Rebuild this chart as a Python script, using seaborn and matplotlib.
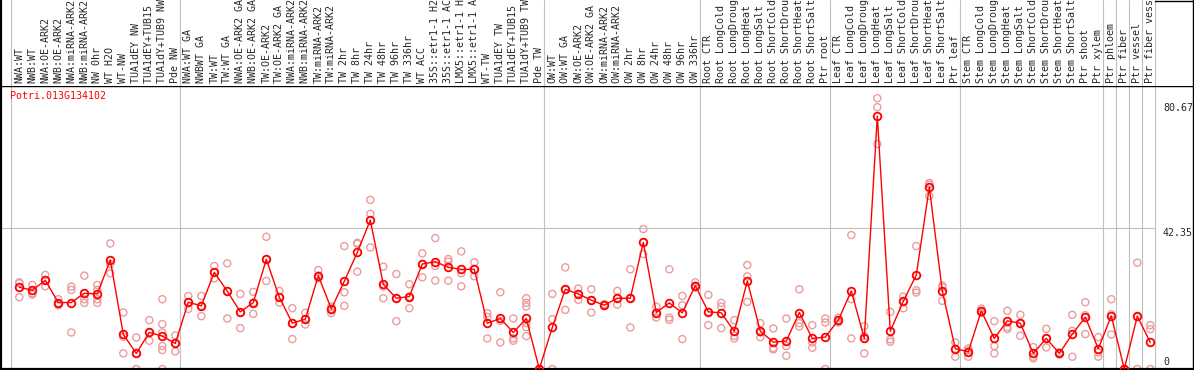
"""
Expression profile of one poplar gene across all sample conditions.
Mean per condition drawn as a red line with open circles, individual
replicates as faint open circles behind it.
"""

import matplotlib
matplotlib.use("Agg")
import matplotlib.pyplot as plt
import matplotlib.transforms as mtransforms
from matplotlib.lines import Line2D
import pandas as pd
import seaborn as sns

gene_id = "Potri.013G134102"

sample_labels = [
    "NWA:WT", "NWB:WT", "NWA:OE-ARK2", "NWB:OE-ARK2", "NWA:miRNA-ARK2", "NWB:miRNA-ARK2",
    "NW 0hr", "WT H2O", "WT-NW", "TUA1dEY NW", "TUA1dEY+TUB15 NW", "TUA1dY+TUB9 NW", "Pde NW",
    "NWA:WT GA", "NWBWT GA", "TW:WT", "TW:WT GA", "NWA:OE-ARK2 GA", "NWB:OE-ARK2 GA",
    "TW:OE-ARK2", "TW:OE-ARK2 GA", "NWA:miRNA-ARK2 GA", "NWB:miRNA-ARK2 GA", "TW:miRNA-ARK2",
    "TW:miRNA-ARK2 GA", "TW 2hr", "TW 8hr", "TW 24hr", "TW 48hr", "TW 96hr", "TW 336hr",
    "WT ACC", "35S::etr1-1 H2O", "35S::etr1-1 ACC", "LMX5::etr1-1 H2O", "LMX5::etr1-1 ACC",
    "WT-TW", "TUA1dEY TW", "TUA1dEY+TUB15 TW", "TUA1dY+TUB9 TW", "Pde TW",
    "OW:WT", "OW:WT GA", "OW:OE-ARK2", "OW:OE-ARK2 GA", "OW:miRNA-ARK2", "OW:miRNA-ARK2 GA",
    "OW 2hr", "OW 8hr", "OW 24hr", "OW 48hr", "OW 96hr", "OW 336hr",
    "Root CTR", "Root LongCold", "Root LongDrought", "Root LongHeat", "Root LongSalt",
    "Root ShortCold", "Root ShortDrought", "Root ShortHeat", "Root ShortSalt", "Ptr root",
    "Leaf CTR", "Leaf LongCold", "Leaf LongDrought", "Leaf LongHeat", "Leaf LongSalt",
    "Leaf ShortCold", "Leaf ShortDrought", "Leaf ShortHeat", "Leaf ShortSalt", "Ptr leaf",
    "Stem CTR", "Stem LongCold", "Stem LongDrought", "Stem LongHeat", "Stem LongSalt",
    "Stem ShortCold", "Stem ShortDrought", "Stem ShortHeat", "Stem ShortSalt", "Ptr shoot",
    "Ptr xylem", "Ptr phloem", "Ptr fiber", "Ptr vessel", "Ptr fiber vessel",
]

mean_expr = [
    24.6, 23.7, 26.7, 20.0, 20.0, 22.8, 22.6, 32.8, 10.4, 4.7, 11.0, 9.9, 7.7,
    20.1, 19.0, 29.1, 23.4, 17.2, 20.0, 33.0, 21.6, 13.8, 15.0, 28.1, 18.1, 26.4,
    35.1, 44.8, 25.5, 21.3, 21.8, 31.6, 32.3, 30.6, 30.0, 30.0, 13.8, 15.2, 11.0,
    15.2, 0.0,
    12.5, 24.0, 22.6, 20.7, 19.2, 21.3, 21.3, 38.1, 17.0, 19.9, 16.9, 25.1,
    17.2, 16.9, 11.3, 26.5, 11.4, 8.1, 8.4, 17.0, 9.2, 9.6,
    14.7, 23.5, 9.2, 76.1, 11.4, 20.4, 28.3, 54.7, 23.5, 6.1,
    5.2, 17.5, 9.2, 14.5, 13.8, 4.7, 9.2, 4.7, 10.5, 15.6, 6.1,
    16.0, 0.0, 15.9, 8.0,
]

replicate_expr = [
    [26.1, 25.8, 21.6], [25.3, 22.8, 22.4], [28.3, 26.8, 24.9], [21.0, 19.8, 19.2],
    [24.8, 23.8, 11.0], [28.1, 21.0, 19.9], [25.3, 23.8, 21.0, 19.9], [37.8, 31.6, 28.8],
    [17.0, 9.7, 4.7], [9.5, 4.7, 0.0], [14.7, 11.0, 8.5], [21.0, 13.5, 11.0, 6.9, 5.7, 0.0],
    [10.1, 7.7, 5.3],
    [22.0, 20.1, 18.1], [22.0, 19.0, 15.9], [31.0, 29.1, 27.3], [31.8, 23.4, 15.2],
    [22.6, 17.0, 12.3], [23.2, 20.0, 16.6], [39.8, 33.0, 26.5], [23.5, 21.6, 20.0],
    [18.3, 13.8, 9.0], [16.9, 15.0, 13.4], [29.8, 28.1, 27.3], [18.8, 18.1, 16.8],
    [37.0, 23.1, 19.0], [38.0, 37.7, 29.3], [50.9, 46.7, 36.6], [30.8, 24.8, 21.3],
    [28.6, 21.3, 14.4], [25.5, 21.8, 18.3], [34.8, 31.6, 27.6], [39.4, 31.0, 26.6],
    [33.1, 32.3, 26.6], [35.4, 28.8, 24.9], [32.1, 30.0, 27.9], [16.8, 15.7, 9.2],
    [23.1, 14.5, 8.0], [15.2, 9.2, 8.5], [21.3, 19.9, 18.8, 13.8, 12.6, 9.9], [0.0, 0.0, 0.0],
    [22.6, 15.0, 0.0], [30.6, 24.0, 17.8], [24.2, 22.6, 20.8], [24.0, 20.7, 17.0],
    [19.5, 19.2, 19.0], [23.5, 21.3, 19.4], [30.0, 21.3, 12.5], [42.1, 38.1, 34.6],
    [18.8, 17.0, 15.5], [30.0, 15.5, 14.8], [22.0, 19.2, 9.0], [26.1, 25.1, 24.6],
    [22.3, 17.2, 13.2], [19.9, 18.8, 12.3], [14.7, 10.0, 9.2], [31.3, 27.9, 20.2],
    [13.8, 11.0, 9.6], [12.2, 6.3, 5.9], [15.2, 6.9, 4.0], [24.0, 13.8, 12.8],
    [13.2, 8.0, 6.4], [15.2, 14.0, 0.0],
    [15.4, 14.7, 14.0], [40.3, 21.0, 9.2], [12.9, 9.9, 4.7], [81.5, 78.8, 67.7],
    [17.2, 8.9, 8.2], [21.8, 20.4, 18.3], [37.0, 23.7, 23.0], [56.0, 55.5, 52.1],
    [25.1, 24.6, 20.5], [8.0, 6.1, 3.7],
    [6.2, 5.6, 3.7], [18.2, 17.5, 16.9], [14.4, 6.9, 4.7], [17.5, 12.6, 12.0],
    [16.3, 13.8, 10.0], [6.6, 3.7, 3.2], [12.1, 9.2, 6.5], [5.0, 4.7, 4.4],
    [16.3, 11.5, 3.7], [20.1, 16.2, 10.5], [9.6, 5.0, 3.7],
    [21.0, 16.5, 10.4], [0.0, 0.0, 0.0], [32.0, 15.7, 0.0], [13.2, 12.0, 0.0],
]

# last sample index of each block (-1 = line before the first sample)
group_ends = [-1, 12, 40, 52, 62, 72, 83, 84, 85, 86, 87]
y_ticks = [80.67, 42.35, 0]

W, H = 1194, 370
X0_PX, STEP_PX = 19.3, 13.0          # pixel x of first sample, spacing
PLOT_TOP, PLOT_BOTTOM = 86, 369      # pixel rows of the plot area
PX_PER_UNIT = 3.3225

MEAN_COLOR = "#ff0000"
REP_COLOR = "#eb9c9c"
GRID_COLOR = "#c0c0c0"
FONT = dict(family="DejaVu Sans Mono", size=7.2)


def fx(px):
    return px / W


def fy(py):
    return 1 - py / H


def px_to_index(px):
    return (px - X0_PX) / STEP_PX


mean_df = pd.DataFrame({"pos": range(len(sample_labels)), "sample": sample_labels, "expr": mean_expr})
rep_df = pd.DataFrame([(i, v) for i, reps in enumerate(replicate_expr) for v in reps],
                      columns=["pos", "expr"])

sns.set_style("white")
plt.rcParams["font.family"] = ["DejaVu Sans Mono", "DejaVu Sans"]

fig = plt.figure(figsize=(W / 100, H / 100), dpi=100)
ax = fig.add_axes([fx(1), fy(PLOT_BOTTOM), fx(1193) - fx(1), fy(PLOT_TOP) - fy(PLOT_BOTTOM)])
ax_h = fig.add_axes([fx(1), fy(PLOT_TOP), fx(1193) - fx(1), fy(0) - fy(PLOT_TOP)], sharex=ax)

x_lo, x_hi = px_to_index(1), px_to_index(1193)
ax.set_xlim(x_lo, x_hi)
ax.set_ylim(0, (PLOT_BOTTOM - PLOT_TOP) / PX_PER_UNIT)
ax_h.set_ylim(0, 1)

# block separators and the middle reference line
for end in group_ends:
    for a in (ax, ax_h):
        a.axvline(end + 0.36, color=GRID_COLOR, lw=0.8, zorder=1)
ax.hlines(42.35, x_lo, group_ends[-1] + 0.36, color=GRID_COLOR, lw=0.8, zorder=1)

sns.scatterplot(data=rep_df, x="pos", y="expr", ax=ax, color=REP_COLOR, s=26,
                marker="o", linewidth=1.0, legend=False, zorder=2)
reps = ax.collections[-1]
reps.set_facecolor("none")
reps.set_edgecolor(REP_COLOR)

sns.lineplot(data=mean_df, x="pos", y="expr", ax=ax, color=MEAN_COLOR, lw=1.0,
             errorbar=None, marker="o", markersize=5.5, markerfacecolor="none",
             markeredgecolor=MEAN_COLOR, markeredgewidth=1.3, legend=False, zorder=3)

# rotated sample names in the header strip
trans = mtransforms.blended_transform_factory(ax_h.transData, ax_h.transAxes)
for i, name in enumerate(sample_labels):
    ax_h.text(i, 3 / PLOT_TOP, name, rotation=90, ha="center", va="bottom",
              transform=trans, clip_on=True, **FONT)

for a in (ax, ax_h):
    a.set_xlabel("")
    a.set_ylabel("")
    a.tick_params(left=False, bottom=False, labelleft=False, labelbottom=False)
    for s in a.spines.values():
        s.set_color("black")
ax.spines["left"].set_linewidth(1.6)
ax.spines["bottom"].set_linewidth(1.6)
ax.spines["top"].set_linewidth(1.0)
ax.spines["right"].set_linewidth(1.0)
ax_h.spines["top"].set_visible(False)
ax_h.spines["bottom"].set_visible(False)
ax_h.spines["left"].set_linewidth(1.6)
ax_h.spines["right"].set_linewidth(1.0)
fig.add_artist(Line2D([fx(1155), fx(1194)], [fy(0.5), fy(0.5)], color="black", lw=1.0,
                      transform=fig.transFigure))

fig.text(fx(10), fy(91), gene_id, color=MEAN_COLOR, ha="left", va="top", **FONT)

# value labels on the right
fig.text(fx(1163), fy(103), f"{y_ticks[0]:.2f}", ha="left", va="top", **FONT)
fig.text(fx(1163), fy(228), f"{y_ticks[1]:.2f}", ha="left", va="top", **FONT)
fig.text(fx(1163), fy(367), f"{y_ticks[2]:g}", ha="left", va="bottom", **FONT)

fig.savefig("out.png", dpi=100)
plt.close(fig)
